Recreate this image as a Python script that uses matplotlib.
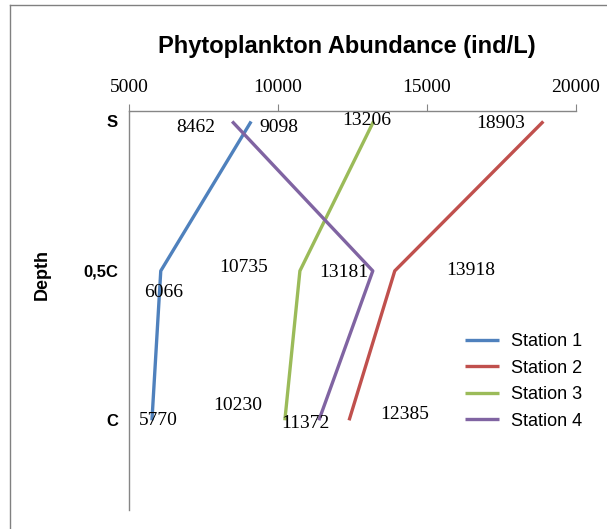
import matplotlib
matplotlib.use("Agg")
import matplotlib.pyplot as plt
from matplotlib.lines import Line2D

depths = ["S", "0,5C", "C"]
stations = ["Station 1", "Station 2", "Station 3", "Station 4"]
station1 = [9098, 6066, 5770]
station2 = [18903, 13918, 12385]
station3 = [13206, 10735, 10230]
station4 = [8462, 13181, 11372]
colors = ["#4F81BD", "#C0504D", "#9BBB59", "#8064A2"]
xticks = [5000, 10000, 15000, 20000]

# label offsets in pixels (dx, dy) per station and depth, as placed in the source
offsets = [
    [(28, -6), (3, -22), (6, 0)],
    [(-43, -2), (76, 0), (56, 6)],
    [(-7, 1), (-56, 3), (-47, 15)],
    [(-36, -6), (-29, -2), (-13, -3)],
]

fig = plt.figure(figsize=(6.07, 5.29), dpi=100)
ax = fig.add_axes([129 / 607, 1 - 510 / 529, (576 - 129) / 607, (510 - 111) / 529])

ypos = list(range(len(depths)))
series = [station1, station2, station3, station4]
for vals, col, name in zip(series, colors, stations):
    ax.plot(vals, ypos, color=col, lw=2.4, label=name, solid_capstyle="butt")

for vals, offs in zip(series, offsets):
    for v, y, (dx, dy) in zip(vals, ypos, offs):
        ax.annotate(str(v), (v, y), xytext=(dx, dy), textcoords="offset pixels",
                    ha="center", va="center", fontsize=14, family="Liberation Serif")

ax.set_xlim(5000, 20000)
ax.set_ylim(2.6, -0.07)
ax.xaxis.tick_top()
ax.set_xticks(xticks)
ax.set_xticklabels([str(t) for t in xticks], family="Liberation Serif", fontsize=14)
ax.tick_params(axis="x", direction="out", length=5, color="#868686", pad=6)
ax.set_yticks(ypos)
ax.set_yticklabels(depths, family="Liberation Sans", fontweight="bold", fontsize=12)
ax.tick_params(axis="y", length=0, pad=8)
for s in ["right", "bottom"]:
    ax.spines[s].set_visible(False)
for s in ["top", "left"]:
    ax.spines[s].set_color("#868686")
    ax.spines[s].set_linewidth(1)

fig.text(347 / 607, 1 - 47 / 529, "Phytoplankton Abundance (ind/L)", ha="center", va="center",
         family="Liberation Sans", fontweight="bold", fontsize=17)
fig.text(42 / 607, 1 - 274 / 529, "Depth", rotation=90, ha="center", va="center",
         family="Liberation Sans", fontweight="bold", fontsize=13)

leg = ax.legend(loc="upper left", bbox_to_anchor=(465 / 607, 1 - 333 / 529),
                bbox_transform=fig.transFigure, frameon=False, borderpad=0,
                borderaxespad=0, handlelength=1.9, handletextpad=0.65,
                labelspacing=0.53, prop={"family": "Liberation Sans", "size": 13})

# outer border (top and left only)
fig.add_artist(Line2D([10 / 607, 1], [1 - 5 / 529, 1 - 5 / 529], color="#808080", lw=1,
                      transform=fig.transFigure))
fig.add_artist(Line2D([10 / 607, 10 / 607], [0, 1 - 5 / 529], color="#808080", lw=1,
                      transform=fig.transFigure))

fig.savefig("out.png", dpi=100)
